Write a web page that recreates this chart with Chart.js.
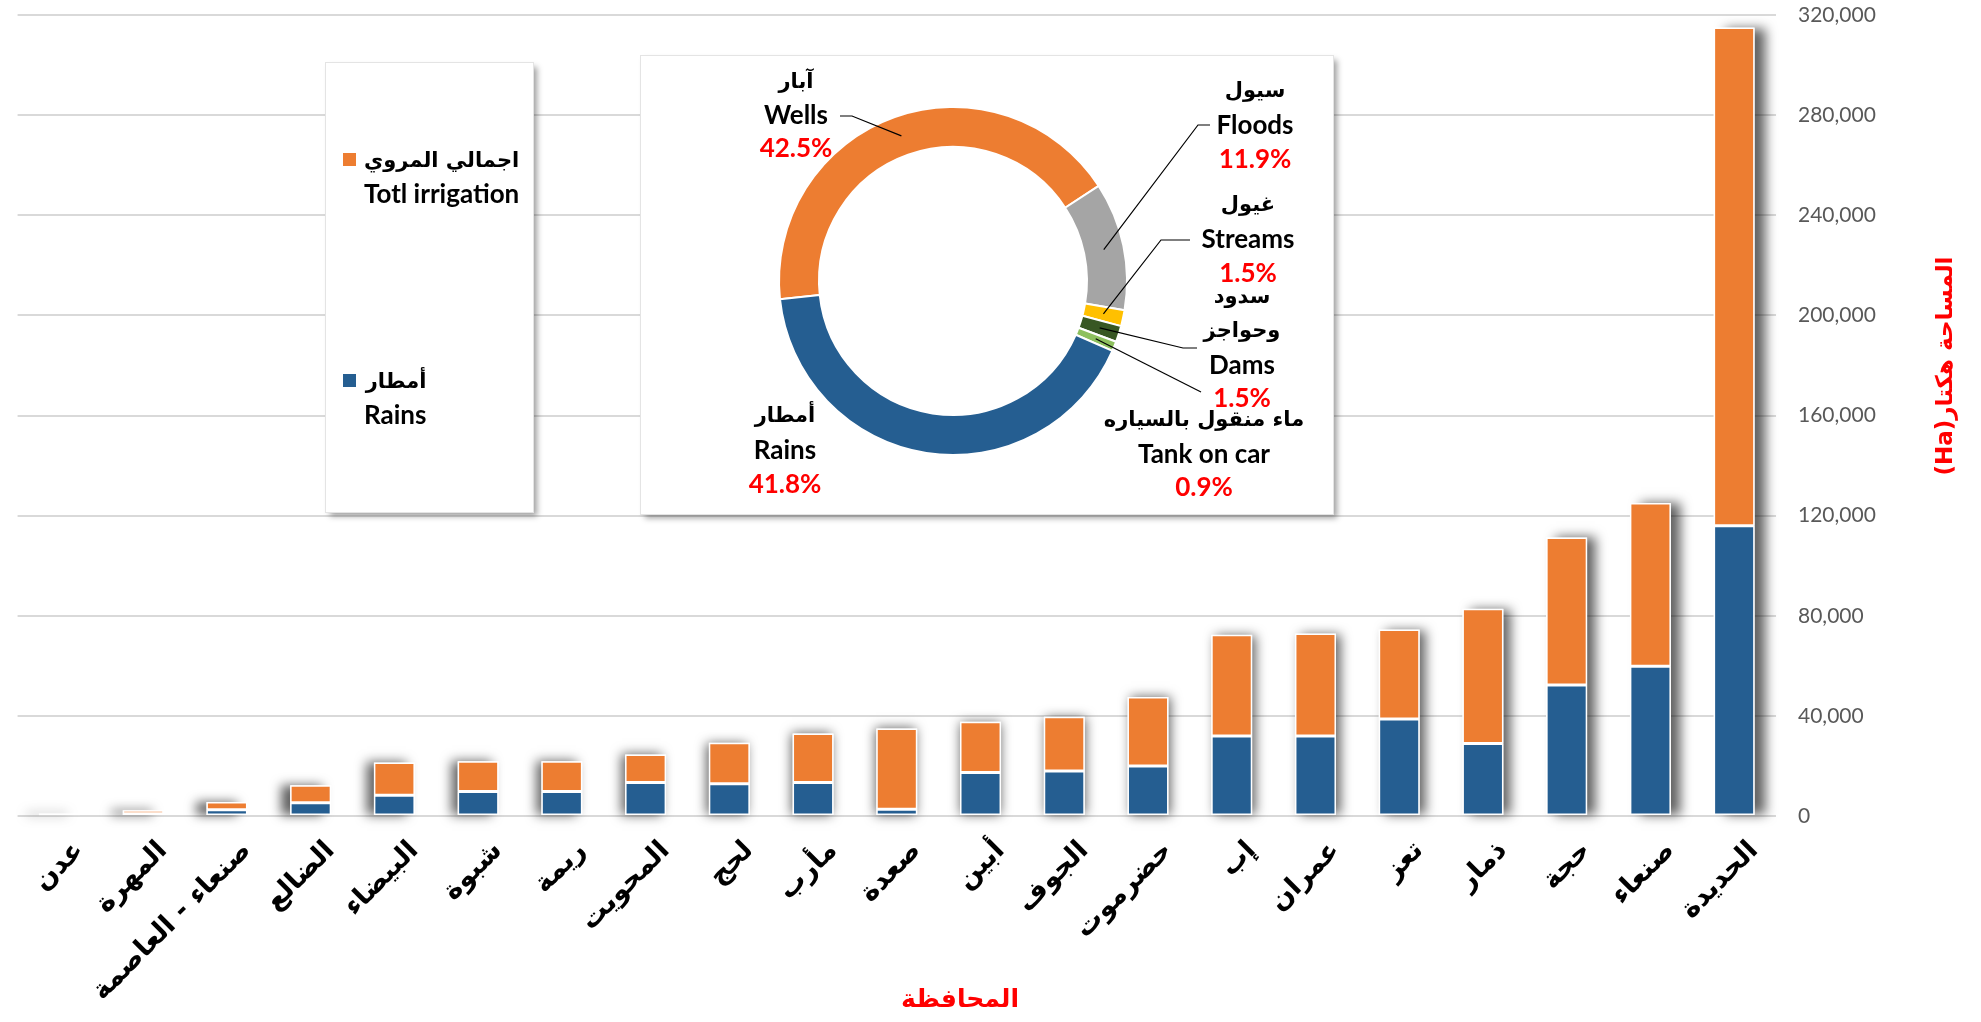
<!DOCTYPE html>
<html lang="ar">
<head>
<meta charset="utf-8">
<script src="https://cdn.jsdelivr.net/npm/chart.js@4.4.1/dist/chart.umd.min.js"></script>
<style>
  html, body { margin: 0; padding: 0; background: #fff; }
  #wrap { position: relative; width: 1981px; height: 1022px; overflow: hidden; }
  #bars { position: absolute; left: 0; top: 0; }
  .box { position: absolute; background: #fff;
         box-shadow: 0 0 0 1px #e4e4e4, 4px 4px 6px rgba(0,0,0,0.38); }
  #legendBox { left: 326px; top: 63px; width: 207px; height: 449px; }
  #pieBox { left: 641px; top: 56px; width: 692px; height: 458px; }
  #donut { position: absolute; left: 0; top: 0; }
  .lg-swatch { position: absolute; width: 13px; height: 13px; }
  .lg-text { position: absolute; text-align: right; color: #000; white-space: nowrap;
             font: bold 26px Lato, "DejaVu Sans", sans-serif; line-height: 34px; }
  .lg-text .ar { font: bold 21px "DejaVu Sans", sans-serif; line-height: 31px; }
</style>
</head>
<body>
<div id="wrap">
  <canvas id="bars" width="1981" height="1022"></canvas>
  <div id="legendBox" class="box"></div>
  <div id="pieBox" class="box"><canvas id="donut" width="692" height="458"></canvas></div>
</div>
<script>
// governorates, left to right
const provinces = ['عدن', 'المهرة', 'صنعاء - العاصمة', 'الضالع', 'البيضاء', 'شبوة', 'ريمة',
  'المحويت', 'لحج', 'مأرب', 'صعدة', 'أبين', 'الجوف', 'حضرموت', 'إب', 'عمران', 'تعز',
  'ذمار', 'حجة', 'صنعاء', 'الحديدة'];

// area in hectares
const rains = [300, 900, 2500, 5300, 8300, 9800, 9800, 13400, 12900, 13400, 2700, 17400,
  18000, 20000, 32000, 32000, 38800, 29000, 52300, 59800, 116000];
const irrigated = [700, 1400, 3100, 7000, 13100, 12100, 12100, 11200, 16400, 19600, 32300, 20300,
  21700, 27500, 40400, 40900, 35700, 53800, 59000, 65200, 199000];

const seriesAr = ['أمطار', 'اجمالي المروي'];
const seriesEn = ['Rains', 'Totl irrigation'];
const seriesColors = ['#255E91', '#ED7D31'];

const yTicks = [0, 40000, 80000, 120000, 160000, 200000, 240000, 280000, 320000];
const xTitle = 'المحافظة';
const yTitle = 'المساحة هكتار(Ha)';

// irrigation sources (inset doughnut), share in %
const sourceAr = [['آبار'], ['سيول'], ['غيول'], ['سدود', 'وحواجز'], ['ماء منقول بالسياره'], ['أمطار']];
const sourceEn = ['Wells', 'Floods', 'Streams', 'Dams', 'Tank on car', 'Rains'];
const sourceShares = [42.5, 11.9, 1.5, 1.5, 0.9, 41.8];
const sourceColors = ['#ED7D31', '#A5A5A5', '#FFC000', '#385723', '#8DC05E', '#255E91'];

const LATIN_FONT = "bold 26px Lato, sans-serif";
const ARABIC_FONT = "bold 21px 'DejaVu Sans', sans-serif";

// where each doughnut label sits, and its leader line elbow (inset coords)
const labelSpots = [
  { x: 155, y: 27, gap: 33, lead: [[199, 60], [211, 60]] },
  { x: 614, y: 36, gap: 34, lead: [[569, 69], [557, 69]] },
  { x: 607, y: 150, gap: 34, lead: [[549, 184], [520, 184]] },
  { x: 601, y: 242, gap: 33.7, lead: [[556, 292], [542, 292]] },
  { x: 563, y: 365, gap: 33.5, lead: [[560, 336]] },
  { x: 144, y: 361, gap: 34, lead: null },
];

// soft drop shadow behind each stacked bar, thrown away from the middle
const barShadow = {
  id: 'barShadow',
  beforeDatasetsDraw(chart) {
    const ctx = chart.ctx;
    const low = chart.getDatasetMeta(0).data;
    const high = chart.getDatasetMeta(1).data;
    const mid = (chart.chartArea.left + chart.chartArea.right) / 2 + 60;
    ctx.save();
    low.forEach((bar, i) => {
      const top = high[i].y;
      ctx.shadowColor = 'rgba(0,0,0,0.62)';
      ctx.shadowBlur = 11;
      ctx.shadowOffsetX = (bar.x - mid) * 0.014;
      ctx.shadowOffsetY = 0;
      ctx.fillStyle = '#fff';
      ctx.fillRect(bar.x - bar.width / 2, top, bar.width, bar.base - top);
    });
    ctx.restore();
  }
};

const axisTitles = {
  id: 'axisTitles',
  afterDraw(chart) {
    const ctx = chart.ctx;
    ctx.save();
    ctx.fillStyle = '#FF0000';
    ctx.font = "bold 25px 'DejaVu Sans', sans-serif";
    ctx.textAlign = 'center';
    ctx.textBaseline = 'middle';
    ctx.fillText(xTitle, 960, 1000);
    ctx.font = "bold 23px 'DejaVu Sans', sans-serif";
    ctx.translate(1946, 366);
    ctx.rotate(-Math.PI / 2);
    ctx.direction = 'rtl';
    ctx.fillText(yTitle, 0, 0);
    ctx.restore();
  }
};

const donutLabels = {
  id: 'donutLabels',
  afterDatasetsDraw(chart) {
    const ctx = chart.ctx;
    const arcs = chart.getDatasetMeta(0).data;
    ctx.save();
    ctx.textAlign = 'center';
    ctx.textBaseline = 'middle';
    sourceShares.forEach((v, i) => {
      const p = labelSpots[i];
      let k = 0;
      ctx.fillStyle = '#000';
      ctx.font = ARABIC_FONT;
      sourceAr[i].forEach(t => ctx.fillText(t, p.x, p.y + (k++) * p.gap));
      ctx.font = LATIN_FONT;
      ctx.fillText(sourceEn[i], p.x, p.y + (k++) * p.gap);
      ctx.fillStyle = '#FF0000';
      ctx.fillText(v.toFixed(1) + '%', p.x, p.y + k * p.gap);
      if (p.lead) {
        const c = arcs[i].getCenterPoint();
        ctx.beginPath();
        ctx.moveTo(p.lead[0][0], p.lead[0][1]);
        p.lead.slice(1).forEach(q => ctx.lineTo(q[0], q[1]));
        ctx.lineTo(c.x, c.y);
        ctx.strokeStyle = '#000';
        ctx.lineWidth = 1.2;
        ctx.stroke();
      }
    });
    ctx.restore();
  }
};

function buildLegend() {
  const box = document.getElementById('legendBox');
  // irrigation first, rains second, like the original
  const spots = [{ top: 80, idx: 1 }, { top: 301, idx: 0 }];
  spots.forEach(s => {
    const sw = document.createElement('div');
    sw.className = 'lg-swatch';
    sw.style.left = '17px';
    sw.style.top = (s.top + 10) + 'px';
    sw.style.background = seriesColors[s.idx];
    box.appendChild(sw);
    const tx = document.createElement('div');
    tx.className = 'lg-text';
    tx.style.left = '38px';
    tx.style.top = (s.top + 2) + 'px';
    const ar = document.createElement('div');
    ar.className = 'ar';
    ar.textContent = seriesAr[s.idx];
    const en = document.createElement('div');
    en.textContent = seriesEn[s.idx];
    tx.appendChild(ar);
    tx.appendChild(en);
    box.appendChild(tx);
  });
}

function draw() {
  buildLegend();

  new Chart(document.getElementById('bars'), {
    type: 'bar',
    data: {
      labels: provinces,
      datasets: [
        { label: seriesEn[0], data: rains, backgroundColor: seriesColors[0] },
        { label: seriesEn[1], data: irrigated, backgroundColor: seriesColors[1] },
      ],
    },
    options: {
      responsive: false,
      animation: false,
      layout: { padding: { left: 4, top: 15, right: 0, bottom: 0 } },
      datasets: {
        bar: {
          categoryPercentage: 1,
          barPercentage: 0.49,
          borderColor: '#fff',
          borderWidth: 1.5,
          borderSkipped: false,
        },
      },
      plugins: { legend: { display: false }, tooltip: { enabled: false } },
      scales: {
        x: {
          stacked: true,
          grid: { display: false, drawTicks: false },
          border: { display: false },
          ticks: {
            autoSkip: false,
            maxRotation: 45,
            minRotation: 45,
            padding: 19,
            labelOffset: 20,
            color: '#000',
            font: { family: "'DejaVu Sans', sans-serif", weight: 'bold', size: 27 },
          },
          afterFit: s => { s.height = 206; },
        },
        y: {
          stacked: true,
          position: 'right',
          min: 0,
          max: 320000,
          afterBuildTicks: s => { s.ticks = yTicks.map(v => ({ value: v })); },
          grid: { color: '#D9D9D9', lineWidth: 2, drawTicks: false },
          border: { display: false },
          ticks: {
            padding: 22,
            color: '#595959',
            font: { family: 'Lato, sans-serif', size: 21 },
            callback: v => v.toLocaleString('en-US'),
          },
          afterFit: s => { s.width = 205; s.paddingTop = 0; s.paddingBottom = 0; },
        },
      },
    },
    plugins: [barShadow, axisTitles],
  });

  new Chart(document.getElementById('donut'), {
    type: 'doughnut',
    data: {
      labels: sourceEn,
      datasets: [{
        data: sourceShares,
        backgroundColor: sourceColors,
        borderColor: '#fff',
        borderWidth: 2,
      }],
    },
    options: {
      responsive: false,
      animation: false,
      rotation: 264,
      cutout: '77%',
      layout: { padding: { left: 137, top: 50, right: 205, bottom: 58 } },
      plugins: { legend: { display: false }, tooltip: { enabled: false } },
    },
    plugins: [donutLabels],
  });
}

Promise.all([
  document.fonts.load(LATIN_FONT),
  document.fonts.load('21px Lato'),
  document.fonts.load(ARABIC_FONT),
]).then(draw, draw);
</script>
</body>
</html>
